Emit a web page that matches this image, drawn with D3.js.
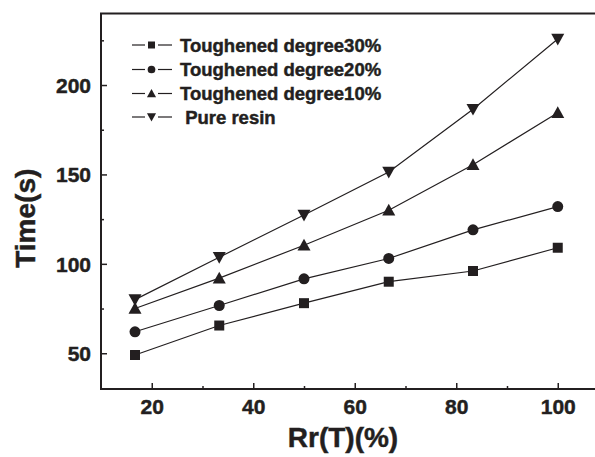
<!DOCTYPE html>
<html>
<head>
<meta charset="utf-8">
<script src="https://cdn.jsdelivr.net/npm/d3@7"></script>
<style>
  html, body { margin: 0; padding: 0; background: #fff; }
  svg { display: block; }
  text { font-family: "Liberation Sans", Arial, sans-serif; font-weight: bold; fill: #231f20; stroke: #231f20; stroke-width: 0.45px; }
</style>
</head>
<body>
<svg id="chart" width="595" height="457"></svg>
<script>
// ---- data ----
const xValues = [16.7, 33.3, 50, 66.7, 83.3, 100];
const deg30 = [49, 65.5, 78, 90, 96, 109];
const deg20 = [62, 76.7, 91.6, 103, 119, 132];
const deg10 = [75, 92, 110.4, 130, 155.4, 184.5];
const pureResin = [80, 103.7, 127.3, 151.3, 186.5, 225.7];
const seriesNames = ["Toughened degree30%", "Toughened degree20%", "Toughened degree10%", " Pure resin"];
const seriesSymbols = ["square", "circle", "triangle", "triangleDown"];
const xTicks = [20, 40, 60, 80, 100];
const xMinorTicks = [30, 50, 70, 90];
const yTicks = [50, 100, 150, 200];
const yMinorTicks = [75, 125, 175, 225];
const xTitle = "Rr(T)(%)";
const yTitle = "Time(s)";

const allSeries = [deg30, deg20, deg10, pureResin];
const ink = "#231f20";

const svg = d3.select("#chart");
const plotLeft = 101, plotTop = 13.5, plotBottom = 389;
const x = d3.scaleLinear().domain([10, 108]).range([plotLeft, plotLeft + 98 * 5.075]);
const y = d3.scaleLinear().domain([30, 240]).range([plotBottom, plotTop]);

// frame
svg.append("path")
  .attr("d", `M${x(108)},${plotTop} H${plotLeft} V${plotBottom} H${x(108)}`)
  .attr("fill", "none").attr("stroke", ink).attr("stroke-width", 2);

// axes
const xAxis = svg.append("g").attr("transform", `translate(0,${plotBottom})`)
  .call(d3.axisBottom(x).tickValues(xTicks).tickSizeInner(-6).tickSizeOuter(0).tickPadding(10));
const xMinor = svg.append("g").attr("transform", `translate(0,${plotBottom})`)
  .call(d3.axisBottom(x).tickValues(xMinorTicks).tickSizeInner(-3).tickSizeOuter(0).tickFormat(""));
const yAxis = svg.append("g").attr("transform", `translate(${plotLeft},0)`)
  .call(d3.axisLeft(y).tickValues(yTicks).tickSizeInner(-6).tickSizeOuter(0).tickPadding(10));
const yMinor = svg.append("g").attr("transform", `translate(${plotLeft},0)`)
  .call(d3.axisLeft(y).tickValues(yMinorTicks).tickSizeInner(-3).tickSizeOuter(0).tickFormat(""));
[xAxis, xMinor, yAxis, yMinor].forEach(g => {
  g.select(".domain").remove();
  g.selectAll("line").attr("stroke", ink).attr("stroke-width", 1.5);
  g.selectAll("text").attr("font-size", 21).attr("font-family", "Liberation Sans, Arial, sans-serif")
    .attr("font-weight", "bold").attr("fill", ink);
});
xAxis.selectAll("text").attr("dy", "0.71em");
yAxis.selectAll("text").attr("dy", "0.36em");

// titles
svg.append("text").attr("x", 343).attr("y", 447)
  .attr("text-anchor", "middle").attr("font-size", 28).text(xTitle);
svg.append("text").attr("transform", `translate(35,${(plotTop + plotBottom) / 2 + 17}) rotate(-90)`)
  .attr("text-anchor", "middle").attr("font-size", 28).text(yTitle);

// symbols
function symbolPath(kind, s) {
  if (kind === "square") return `M${-s/2},${-s/2}h${s}v${s}h${-s}Z`;
  if (kind === "circle") return d3.arc()({innerRadius: 0, outerRadius: s/2, startAngle: 0, endAngle: 2 * Math.PI});
  const h = s * 0.9;
  if (kind === "triangle") return `M0,${-h*0.55}L${s/2},${h*0.45}L${-s/2},${h*0.45}Z`;
  return `M0,${h*0.55}L${s/2},${-h*0.45}L${-s/2},${-h*0.45}Z`;
}
const markerSize = {square: 10, circle: 11, triangle: 13, triangleDown: 13};

const line = d3.line().x(d => x(d[0])).y(d => y(d[1]));
allSeries.forEach((vals, i) => {
  const pts = xValues.map((xv, j) => [xv, vals[j]]);
  svg.append("path").attr("d", line(pts)).attr("fill", "none")
    .attr("stroke", ink).attr("stroke-width", 1.2);
  svg.append("g").selectAll("path").data(pts).join("path")
    .attr("transform", d => `translate(${x(d[0])},${y(d[1])})`)
    .attr("d", symbolPath(seriesSymbols[i], markerSize[seriesSymbols[i]]))
    .attr("fill", ink);
});

// legend
const legendY = [45, 69.5, 93.5, 117];
seriesNames.forEach((name, i) => {
  const g = svg.append("g").attr("transform", `translate(0,${legendY[i]})`);
  g.append("line").attr("x1", 132).attr("x2", 145).attr("stroke", ink).attr("stroke-width", 1.2);
  g.append("line").attr("x1", 158).attr("x2", 172).attr("stroke", ink).attr("stroke-width", 1.2);
  g.append("path").attr("transform", "translate(151.5,0)")
    .attr("d", symbolPath(seriesSymbols[i], markerSize[seriesSymbols[i]] * 0.7)).attr("fill", ink);
  g.append("text").attr("x", 180).attr("y", 6.5).attr("font-size", 18.5)
    .style("white-space", "pre").text(name);
});
</script>
</body>
</html>
